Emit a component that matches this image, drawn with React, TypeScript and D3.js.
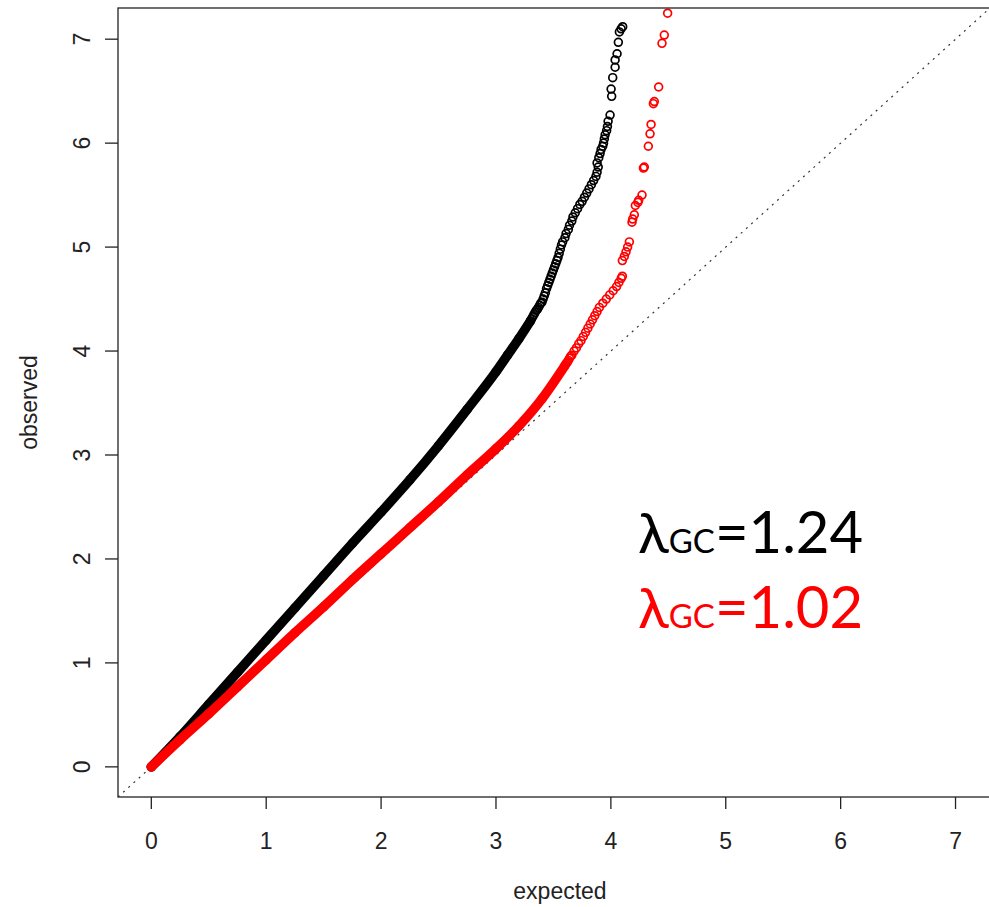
import React from 'react';
import * as d3 from 'd3';

// -log10(p) expected vs observed, uncorrected statistics (dense body of the distribution)
const rawDenseExp = [0, 0.25, 0.5, 0.75, 1.0, 1.25, 1.5, 1.75, 2.0, 2.25, 2.5, 2.75, 3.0, 3.1, 3.2, 3.3];
const rawDenseObs = [0, 0.29, 0.6, 0.91, 1.22, 1.53, 1.84, 2.15, 2.45, 2.76, 3.09, 3.44, 3.8, 3.96, 4.12, 4.29];

// uncorrected statistics, upper tail
const rawTailExp = [
  3.31, 3.32, 3.33, 3.34, 3.35, 3.36, 3.37, 3.38, 3.39, 3.4, 3.41, 3.42, 3.43, 3.44, 3.45, 3.46, 3.47, 3.48,
  3.49, 3.5, 3.51, 3.52, 3.53, 3.54, 3.55, 3.56, 3.57, 3.58, 3.6, 3.61, 3.63, 3.64, 3.66, 3.67, 3.69, 3.71,
  3.73, 3.75, 3.77, 3.79, 3.81, 3.83, 3.85, 3.87, 3.88, 3.89, 3.88, 3.895, 3.906, 3.915, 3.929, 3.936,
  3.943, 3.95, 3.963, 3.97, 3.976, 3.993, 4.007, 4.002, 4.016, 4.037, 4.037, 4.054, 4.065, 4.074, 4.089,
  4.103,
];
const rawTailObs = [
  4.31, 4.33, 4.35, 4.37, 4.39, 4.4, 4.42, 4.44, 4.46, 4.47, 4.5, 4.53, 4.56, 4.6, 4.63, 4.66, 4.69, 4.72,
  4.75, 4.78, 4.81, 4.84, 4.87, 4.9, 4.94, 4.98, 5.02, 5.05, 5.09, 5.13, 5.17, 5.21, 5.25, 5.29, 5.33, 5.37,
  5.41, 5.44, 5.48, 5.52, 5.56, 5.6, 5.64, 5.68, 5.72, 5.77, 5.81, 5.86, 5.9, 5.94, 5.97, 6.0,
  6.04, 6.08, 6.12, 6.16, 6.21, 6.27, 6.45, 6.52, 6.63, 6.73, 6.8, 6.86, 6.97, 7.07, 7.1,
  7.12,
];

// genomic-control corrected statistics (dense body)
const gcDenseExp = [0, 0.25, 0.5, 0.75, 1.0, 1.25, 1.5, 1.75, 2.0, 2.25, 2.5, 2.75, 3.0, 3.2, 3.4, 3.6];
const gcDenseObs = [0, 0.26, 0.51, 0.77, 1.03, 1.29, 1.54, 1.8, 2.05, 2.3, 2.55, 2.81, 3.06, 3.28, 3.54, 3.86];

// genomic-control corrected statistics, upper tail
const gcTailExp = [
  3.61, 3.62, 3.63, 3.64, 3.65, 3.66, 3.68, 3.7, 3.72, 3.74, 3.76, 3.78, 3.8, 3.82, 3.84, 3.86, 3.88, 3.9,
  3.93, 3.96, 3.99, 4.02, 4.05, 4.07, 4.09, 4.1, 4.1, 4.117, 4.132, 4.146, 4.161, 4.184, 4.19, 4.204, 4.213,
  4.235, 4.242, 4.271, 4.283, 4.291, 4.326, 4.341, 4.35, 4.37, 4.378, 4.416, 4.445, 4.465, 4.494,
];
const gcTailObs = [
  3.88, 3.89, 3.91, 3.93, 3.95, 3.96, 4.0, 4.03, 4.07, 4.1, 4.14, 4.18, 4.22, 4.26, 4.3, 4.34, 4.38, 4.42,
  4.46, 4.5, 4.54, 4.58, 4.62, 4.66, 4.7, 4.72, 4.87, 4.91, 4.955, 5.0, 5.05, 5.24, 5.27, 5.31, 5.4,
  5.43, 5.45, 5.5, 5.76, 5.77, 5.97, 6.09, 6.18, 6.38, 6.4, 6.54, 6.96, 7.04, 7.25,
];

const xTicks = [0, 1, 2, 3, 4, 5, 6, 7];
const yTicks = [0, 1, 2, 3, 4, 5, 6, 7];
const xTitle = 'expected';
const yTitle = 'observed';
const lambdaRaw = '1.24';
const lambdaGc = '1.02';

const W = 989;
const H = 907;
const plot = { left: 118, right: 990, top: 8, bottom: 797 };
const AXIS_FONT = "'Liberation Sans', Arial, sans-serif";
const LABEL_FONT = "Lato, 'Open Sans', 'Noto Sans', sans-serif";

const zip = (a: number[], b: number[]) => a.map((v, i) => [v, b[i]] as [number, number]);

export default function App() {
  const x = d3.scaleLinear().domain([-0.29, 7.3]).range([plot.left, plot.right]);
  const y = d3.scaleLinear().domain([-0.29, 7.3]).range([plot.bottom, plot.top]);

  const band = d3
    .line<[number, number]>()
    .x((d) => x(d[0]))
    .y((d) => y(d[1]))
    .curve(d3.curveMonotoneX);

  const series = [
    { color: '#000000', dense: zip(rawDenseExp, rawDenseObs), tail: zip(rawTailExp, rawTailObs) },
    { color: '#ff0000', dense: zip(gcDenseExp, gcDenseObs), tail: zip(gcTailExp, gcTailObs) },
  ];

  const d0 = x.domain();

  return (
    <svg
      width={W}
      height={H}
      viewBox={`0 0 ${W} ${H}`}
      style={{ position: 'absolute', left: 0, top: 0, background: '#fff' }}
    >
      <defs>
        <clipPath id="plot-clip">
          <rect x={plot.left} y={plot.top} width={plot.right - plot.left} height={plot.bottom - plot.top} />
        </clipPath>
      </defs>

      {/* y = x reference */}
      <line
        x1={x(d0[0])}
        y1={y(d0[0])}
        x2={x(d0[1])}
        y2={y(d0[1])}
        stroke="#333"
        strokeWidth={1.2}
        strokeDasharray="2 5"
        clipPath="url(#plot-clip)"
      />

      <g clipPath="url(#plot-clip)">
        {series.map((s, si) => (
          <g key={si}>
            <path
              d={band(s.dense) ?? ''}
              fill="none"
              stroke={s.color}
              strokeWidth={9.5}
              strokeLinecap="round"
              strokeLinejoin="round"
            />
            {s.dense.concat(s.tail).map((p, i) => (
              <circle
                key={i}
                cx={x(p[0])}
                cy={y(p[1])}
                r={3.9}
                fill="none"
                stroke={s.color}
                strokeWidth={1.7}
              />
            ))}
          </g>
        ))}
      </g>

      {/* frame */}
      <rect
        x={plot.left}
        y={plot.top}
        width={plot.right - plot.left}
        height={plot.bottom - plot.top}
        fill="none"
        stroke="#222"
        strokeWidth={1.3}
      />

      {/* x axis */}
      <g fontFamily={AXIS_FONT} fontSize={23} fill="#222">
        {xTicks.map((t) => (
          <g key={t}>
            <line x1={x(t)} x2={x(t)} y1={plot.bottom} y2={plot.bottom + 12} stroke="#222" strokeWidth={1.3} />
            <text x={x(t)} y={849} textAnchor="middle">
              {t}
            </text>
          </g>
        ))}
        <text x={(plot.left + plot.right) / 2 + 6} y={899} textAnchor="middle">
          {xTitle}
        </text>
      </g>

      {/* y axis */}
      <g fontFamily={AXIS_FONT} fontSize={23} fill="#222">
        {yTicks.map((t) => (
          <g key={t}>
            <line x1={plot.left - 13} x2={plot.left} y1={y(t)} y2={y(t)} stroke="#222" strokeWidth={1.3} />
            <text transform={`translate(90,${y(t)}) rotate(-90)`} textAnchor="middle">
              {t}
            </text>
          </g>
        ))}
        <text transform={`translate(37,${(plot.top + plot.bottom) / 2}) rotate(-90)`} textAnchor="middle">
          {yTitle}
        </text>
      </g>

      {/* genomic inflation factors */}
      <g fontFamily={LABEL_FONT}>
        <text x={638} y={553} fill="#000">
          <tspan fontSize={57}>λ</tspan>
          <tspan fontSize={33}>GC</tspan>
          <tspan fontSize={58}>={lambdaRaw}</tspan>
        </text>
        <text x={638} y={628} fill="#ff0000">
          <tspan fontSize={57}>λ</tspan>
          <tspan fontSize={33}>GC</tspan>
          <tspan fontSize={58}>={lambdaGc}</tspan>
        </text>
      </g>
    </svg>
  );
}
